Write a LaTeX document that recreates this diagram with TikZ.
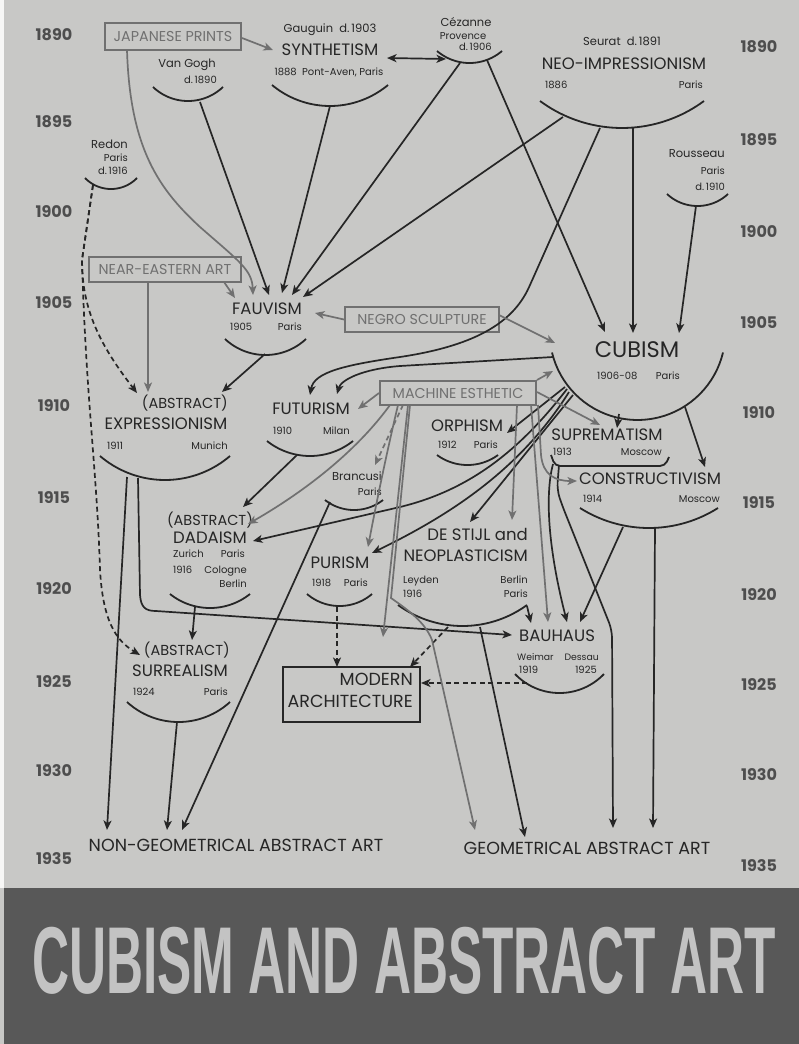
\documentclass[tikz,border=0pt]{standalone}
\usepackage{fontspec}
\setmainfont{Poppins}
\newfontfamily\titlefont{Liberation Sans}
\usetikzlibrary{arrows.meta}
\definecolor{paper}{RGB}{200,200,198}
\definecolor{inkc}{RGB}{38,38,38}
\definecolor{grayc}{RGB}{112,112,112}
\definecolor{bandc}{RGB}{88,88,88}
\definecolor{titlec}{RGB}{195,195,195}
\definecolor{yearc}{RGB}{78,78,78}
\newcommand\fbig{\fontsize{22.5}{25}\selectfont}
\newcommand\fmid{\fontsize{16.5}{19}\selectfont}
\newcommand\fabs{\fontsize{14.5}{16}\selectfont}
\newcommand\fbot{\fontsize{17.5}{20}\selectfont}
\newcommand\fname{\fontsize{11.5}{13}\selectfont}
\newcommand\fsmall{\fontsize{10}{12}\selectfont}
\newcommand\fboxl{\fontsize{14.3}{16}\selectfont}
\newcommand\fyear{\fontsize{16}{18}\selectfont}
\newcommand\bowl[4]{%
  \pgfmathsetmacro\bowlw{(#2-#1)/2}%
  \pgfmathsetmacro\bowlr{(\bowlw*(\bowlw/#4)+#4)/2}%
  \pgfmathsetmacro\bowlcx{(#1+#2)/2}%
  \pgfmathsetmacro\bowlcy{#3+#4-\bowlr}%
  \pgfmathsetmacro\bowla{acos(\bowlw/\bowlr)}%
  \pgfmathsetmacro\bowlb{180-\bowla}%
  \draw[bowlline] plot[domain=\bowla:\bowlb, samples=40] ({\bowlcx+\bowlr*cos(\x)},{\bowlcy+\bowlr*sin(\x)});%
}
\tikzset{
  lab/.style={inner sep=0pt, text=inkc},
  tbig/.style={lab, font=\fbig},
  tmid/.style={lab, font=\fmid},
  tabs/.style={lab, font=\fabs},
  tbot/.style={lab, font=\fbot},
  tname/.style={lab, font=\fname},
  tsm/.style={lab, font=\fsmall},
  gbox/.style={draw=grayc, line width=2pt, text=grayc, font=\fboxl, inner sep=0pt, minimum height=25pt},
  year/.style={text=yearc, font=\fyear\bfseries, inner sep=0pt},
  conn/.style={inkc, line width=1.7pt},
  gconn/.style={grayc, line width=1.7pt},
  arr/.style={-{Stealth[length=9.5pt,width=8pt,inset=2.5pt]}},
  darr/.style={{Stealth[length=9.5pt,width=8pt,inset=2.5pt]}-{Stealth[length=9.5pt,width=8pt,inset=2.5pt]}},
  dsh/.style={dash pattern=on 5pt off 3.5pt},
  bowlline/.style={inkc, line width=1.8pt}
}
\begin{document}
\begin{tikzpicture}[x=1pt,y=-1pt]
\useasboundingbox (0,0) rectangle (799,1044);
\fill[paper] (0,0) rectangle (799,1044);
\fill[white!85!paper] (0,0) rectangle (4,888);
\fill[bandc] (4,888) rectangle (799,1044);
\node[text=titlec] (title) at (404,961) {\scalebox{0.54}[1]{\titlefont\bfseries\fontsize{95}{95}\selectfont CUBISM AND ABSTRACT ART}};

% years
\foreach \y/\t in {35/1890,122/1895,212/1900,303/1905,406/1910,498/1915,589/1920,682/1925,771/1930,859/1935}
  \node[year] (yl\t) at (54,\y) {\t};
\foreach \y/\t in {47/1890,140/1895,232/1900,323/1905,413/1910,503/1915,595/1920,685/1925,775/1930,866/1935}
  \node[year] (yr\t) at (759,\y) {\t};

% boxes
\node[gbox, minimum width=136pt, minimum height=27pt] (jap) at (173,36.5) {JAPANESE PRINTS};
\node[gbox, minimum width=152pt] (near) at (165,269.5) {NEAR-EASTERN ART};
\node[gbox, minimum width=154pt] (negro) at (422,319.5) {NEGRO SCULPTURE};
\node[gbox, minimum width=156pt, minimum height=24pt] (mach) at (458,393) {MACHINE ESTHETIC};
\node[draw=inkc, line width=2pt, minimum width=137pt, minimum height=55pt, inner sep=0pt] (modbox) at (351.5,694.5) {};
\node[tbot, anchor=mid east] (mod1) at (413,683) {MODERN};
\node[tbot, anchor=mid east] (mod2) at (413,705) {ARCHITECTURE};

% labels
\node[tname, anchor=mid] (gau) at (330,30) {Gauguin~~d.\,1903};
\node[tmid, anchor=mid] (syn) at (330,53) {SYNTHETISM};
\node[tsm, anchor=mid] (syn2) at (329,73) {1888~~Pont-Aven, Paris};
\bowl{272}{388}{85}{21}

\node[tname, anchor=mid] (vg) at (187,65) {Van Gogh};
\node[tsm, anchor=mid east] (vg2) at (217,81) {d.\,1890};
\bowl{153}{223}{87}{14}

\node[tname, anchor=mid] (cez) at (466,24) {Cézanne};
\node[tsm, anchor=mid] (cez2) at (463,37) {Provence};
\node[tsm, anchor=mid east] (cez3) at (492,48) {d.\,1906};
\bowl{437}{502}{51}{12}

\node[tname, anchor=mid] (seu) at (622,43) {Seurat~~d.\,1891};
\node[tmid, anchor=mid] (neo) at (624,67) {NEO-IMPRESSIONISM};
\node[tsm, anchor=mid west] (neo2) at (545,86) {1886};
\node[tsm, anchor=mid east] (neo3) at (703,86) {Paris};
\bowl{540}{704}{101}{27}

\node[tname, anchor=mid east] (red) at (128,146) {Redon};
\node[tsm, anchor=mid east] (red2) at (128,159) {Paris};
\node[tsm, anchor=mid east] (red3) at (128,172) {d.\,1916};
\bowl{85}{137}{178}{11}

\node[tname, anchor=mid east] (rou) at (725,155) {Rousseau};
\node[tsm, anchor=mid east] (rou2) at (725,172) {Paris};
\node[tsm, anchor=mid east] (rou3) at (725,188) {d.\,1910};
\bowl{667}{728}{194}{12}

\node[tmid, anchor=mid] (fau) at (267,312) {FAUVISM};
\node[tsm, anchor=mid west] (fau2) at (230,328) {1905};
\node[tsm, anchor=mid east] (fau3) at (302,328) {Paris};
\bowl{225}{306}{339}{16}

\node[tabs, anchor=mid east] (exp0) at (228,406) {(ABSTRACT)};
\node[tmid, anchor=mid] (exp) at (166,427) {EXPRESSIONISM};
\node[tsm, anchor=mid west] (exp2) at (107,447) {1911};
\node[tsm, anchor=mid east] (exp3) at (228,447) {Munich};
\bowl{100}{230}{456}{24}

\node[tmid, anchor=mid] (fut) at (311,412) {FUTURISM};
\node[tsm, anchor=mid west] (fut2) at (273,432) {1910};
\node[tsm, anchor=mid east] (fut3) at (350,432) {Milan};
\bowl{267}{353}{441}{15}

\node[tname, anchor=mid east] (bra) at (382,478) {Brancusi};
\node[tsm, anchor=mid east] (bra2) at (382,493) {Paris};
\bowl{325}{383}{500}{10}

\node[tbig, anchor=mid] (cub) at (637,355) {CUBISM};
\node[tsm, anchor=mid west] (cub2) at (597,377) {1906-08};
\node[tsm, anchor=mid east] (cub3) at (680,377) {Paris};
\bowl{552}{723}{352.5}{67.5}

\node[tmid, anchor=mid] (orp) at (467,429) {ORPHISM};
\node[tsm, anchor=mid west] (orp2) at (438,446) {1912};
\node[tsm, anchor=mid east] (orp3) at (498,446) {Paris};
\bowl{437}{498}{455}{10}

\node[tmid, anchor=mid] (sup) at (607,438) {SUPREMATISM};
\node[tsm, anchor=mid west] (sup2) at (553,453) {1913};
\node[tsm, anchor=mid east] (sup3) at (662,453) {Moscow};
\draw[bowlline, rounded corners=5pt] (551,455) -- (555,466) -- (665,466) -- (669,457);

\node[tmid, anchor=mid] (con) at (650,482) {CONSTRUCTIVISM};
\node[tsm, anchor=mid west] (con2) at (583,500) {1914};
\node[tsm, anchor=mid east] (con3) at (720,500) {Moscow};
\bowl{580}{718}{508}{20}

\node[tabs, anchor=mid] (dad0) at (210,523) {(ABSTRACT)};
\node[tmid, anchor=mid] (dad) at (210,541) {DADAISM};
\node[tsm, anchor=mid west] (dad2) at (173,555) {Zurich};
\node[tsm, anchor=mid east] (dad3) at (245,555) {Paris};
\node[tsm, anchor=mid west] (dad4) at (173,571) {1916};
\node[tsm, anchor=mid east] (dad5) at (247,571) {Cologne};
\node[tsm, anchor=mid east] (dad6) at (247,585) {Berlin};
\bowl{170}{250}{594}{14}

\node[tmid, anchor=mid] (pur) at (340,566) {PURISM};
\node[tsm, anchor=mid west] (pur2) at (312,584) {1918};
\node[tsm, anchor=mid east] (pur3) at (368,584) {Paris};
\bowl{307}{372}{594}{12}

\node[tabs, anchor=mid east] (sur0) at (230,653) {(ABSTRACT)};
\node[tmid, anchor=mid] (sur) at (180,674) {SURREALISM};
\node[tsm, anchor=mid west] (sur2) at (133,693) {1924};
\node[tsm, anchor=mid east] (sur3) at (228,693) {Paris};
\bowl{127}{230}{702}{20}

\node[tmid, anchor=mid east] (ds0) at (528,538) {DE STIJL and};
\node[tmid, anchor=mid east] (ds) at (528,559) {NEOPLASTICISM};
\node[tsm, anchor=mid west] (ds2) at (403,581) {Leyden};
\node[tsm, anchor=mid west] (ds3) at (403,595) {1916};
\node[tsm, anchor=mid east] (ds4) at (528,581) {Berlin};
\node[tsm, anchor=mid east] (ds5) at (528,595) {Paris};
\bowl{398}{527}{605}{21}

\node[tmid, anchor=mid west] (bau) at (519,639) {BAUHAUS};
\node[tsm, anchor=mid west, font=\fontsize{9.3}{11}\selectfont] (bau2) at (517,658) {Weimar};
\node[tsm, anchor=mid east, font=\fontsize{9.3}{11}\selectfont] (bau3) at (599,658) {Dessau};
\node[tsm, anchor=mid west] (bau4) at (519,671) {1919};
\node[tsm, anchor=mid east] (bau5) at (597,671) {1925};
\bowl{515}{604}{674}{19}

\node[tbot, anchor=mid] (nongeo) at (236,849) {NON-GEOMETRICAL ABSTRACT ART};
\node[tbot, anchor=mid] (geo) at (587,852) {GEOMETRICAL ABSTRACT ART};

% ---------- connector end points
\coordinate (vgO) at (200,102);
\coordinate (synO) at (330,106);
\coordinate (cezO1) at (460,63);
\coordinate (cezO2) at (487,60);
\coordinate (cezO3) at (446,59);
\coordinate (neoO1) at (563,117);
\coordinate (neoO2) at (600,128);
\coordinate (neoO3) at (633,128);
\coordinate (rouO) at (696,206);
\coordinate (redO) at (93,185);
\coordinate (fauO) at (265,354);
\coordinate (expO1) at (127,477);
\coordinate (expO2) at (138,478);
\coordinate (futO) at (297,455);
\coordinate (braO) at (330,502);
\coordinate (dadO) at (195,607);
\coordinate (surO) at (177,722);
\coordinate (purO) at (337,607);
\coordinate (dsO1) at (448,627);
\coordinate (dsO2) at (480,627);
\coordinate (dsO3) at (527,606);
\coordinate (bauO) at (527,683);
\coordinate (cubL) at (553,357);
\coordinate (cubB1) at (565,387);
\coordinate (cubB2) at (567,389);
\coordinate (cubB3) at (569,392);
\coordinate (cubB4) at (573,395);
\coordinate (cubS) at (619,414);
\coordinate (cubC) at (685,407);
\coordinate (supO1) at (553,464);
\coordinate (supO2) at (559,465);
\coordinate (conO1) at (623,527);
\coordinate (conO2) at (655,528);

\coordinate (fauI1) at (253,295);
\coordinate (fauI2) at (269,295);
\coordinate (fauI3) at (282,293);
\coordinate (fauI4) at (292,295);
\coordinate (fauI5) at (303,297);
\coordinate (fauI6) at (235,298);
\coordinate (fauI7) at (315,313);
\coordinate (synI1) at (273,50);
\coordinate (synI2) at (387,58);
\coordinate (cubI1) at (605,332);
\coordinate (cubI2) at (633,333);
\coordinate (cubI3) at (679,333);
\coordinate (cubI4) at (555,343);
\coordinate (cubI5) at (553,371);
\coordinate (expI1) at (222,392);
\coordinate (expI2) at (148,392);
\coordinate (expI3) at (137,393);
\coordinate (futI1) at (310,395);
\coordinate (futI2) at (337,394);
\coordinate (futI3) at (358,409);
\coordinate (orpI) at (507,433);
\coordinate (supI1) at (617,428);
\coordinate (supI2) at (600,425);
\coordinate (conI1) at (705,467);
\coordinate (conI2) at (577,481);
\coordinate (braI) at (375,465);
\coordinate (dadI1) at (243,507);
\coordinate (dadI2) at (248,524);
\coordinate (dadI3) at (253,541);
\coordinate (purI1) at (368,547);
\coordinate (purI2) at (372,553);
\coordinate (dsI1) at (470,522);
\coordinate (dsI2) at (512,520);
\coordinate (surI1) at (192,640);
\coordinate (surI2) at (140,655);
\coordinate (bauI1) at (548,622);
\coordinate (bauI2) at (567,622);
\coordinate (bauI3) at (580,622);
\coordinate (bauI4) at (531,623);
\coordinate (bauI5) at (512,635);
\coordinate (modI1) at (337,667);
\coordinate (modI2) at (410,667);
\coordinate (modI3) at (421,683);
\coordinate (modI4) at (383,637);
\coordinate (ngI1) at (107,830);
\coordinate (ngI2) at (167,830);
\coordinate (ngI3) at (182,830);
\coordinate (gI1) at (475,830);
\coordinate (gI2) at (525,837);
\coordinate (gI3) at (613,828);
\coordinate (gI4) at (653,828);

% ---------- black connectors
\draw[conn, arr] (vgO) -- (fauI2);
\draw[conn, arr] (synO) -- (fauI3);
\draw[conn, arr] (cezO1) -- (fauI4);
\draw[conn, arr] (neoO1) -- (fauI5);
\draw[conn, darr] (synI2) -- (cezO3);
\draw[conn, arr] (cezO2) -- (cubI1);
\draw[conn, arr] (neoO3) -- (cubI2);
\draw[conn, arr] (rouO) -- (cubI3);
\draw[conn, arr] (neoO2) -- (530,285) .. controls (515,320) and (480,345) .. (400,357) .. controls (345,365) and (314,372) .. (futI1);
\draw[conn, arr] (cubL) -- (400,366) .. controls (362,369) and (341,380) .. (futI2);
\draw[conn, arr] (fauO) -- (expI1);
\draw[conn, arr] (futO) -- (dadI1);
\draw[conn, arr] (expO1) -- (ngI1);
\draw[conn, arr] (expO2) -- (140,595) .. controls (141,607) and (145,611) .. (156,611) -- (bauI5);
\draw[conn, arr] (dadO) -- (surI1);
\draw[conn, arr] (surO) -- (ngI2);
\draw[conn, arr] (braO) -- (ngI3);
\draw[conn, arr] (cubB1) -- (orpI);
\draw[conn, arr] (cubB2) .. controls (520,450) and (470,490) .. (400,507) -- (dadI3);
\draw[conn, arr] (cubB3) .. controls (520,470) and (450,515) .. (purI2);
\draw[conn, arr] (cubB4) -- (dsI1);
\draw[conn, arr] (cubS) -- (supI1);
\draw[conn, arr] (cubC) -- (conI1);
\draw[conn, arr] (supO1) .. controls (546,490) and (546,540) .. (bauI2);
\draw[conn, arr, rounded corners=8pt] (supO2) -- (557,490) -- (562,505) -- (612,630) -- (gI3);
\draw[conn, arr] (conO1) -- (bauI3);
\draw[conn, arr] (conO2) -- (gI4);
\draw[conn, arr] (dsO3) -- (bauI4);
\draw[conn, arr] (dsO2) -- (gI2);
% dashed
\draw[conn, arr, dsh] (redO) -- (82,260) .. controls (82,310) and (100,345) .. (expI3);
\draw[conn, arr, dsh] (redO) -- (82,260) .. controls (86,400) and (97,470) .. (100,570) .. controls (103,620) and (115,640) .. (surI2);
\draw[conn, arr, dsh] (purO) -- (modI1);
\draw[conn, arr, dsh] (dsO1) -- (modI2);
\draw[conn, arr, dsh] (bauO) -- (modI3);

% ---------- gray connectors
\draw[gconn, arr] (jap.east |- 0,38) -- (synI1);
\draw[gconn, arr] (127,50) .. controls (130,150) and (160,190) .. (200,227) .. controls (240,262) and (252,270) .. (fauI1);
\draw[gconn, arr] (near.south -| 148,0) -- (expI2);
\draw[gconn, arr] (224,282) -- (fauI6);
\draw[gconn, arr] (negro.west) -- (fauI7);
\draw[gconn, arr] (499,315) -- (cubI4);
\draw[gconn, arr] (mach.west) -- (futI3);
\draw[gconn, arr] (537,380) -- (cubI5);
\draw[gconn, arr] (537,392) -- (supI2);
\draw[gconn, arr] (538,405) -- (541,455) .. controls (543,475) and (555,481) .. (conI2);
\draw[gconn, arr, dsh] (403,405) -- (braI);
\draw[gconn, arr] (390,405) .. controls (350,460) and (290,500) .. (dadI2);
\draw[gconn, arr] (398,405) .. controls (385,460) and (375,510) .. (purI1);
\draw[gconn, arr] (408,405) -- (modI4);
\draw[gconn, arr] (410,405) -- (391,598) .. controls (408,610) and (425,622) .. (432,640) -- (gI1);
\draw[gconn, arr] (517,405) -- (dsI2);
\draw[gconn, arr] (531,405) -- (bauI1);
\end{tikzpicture}
\end{document}
